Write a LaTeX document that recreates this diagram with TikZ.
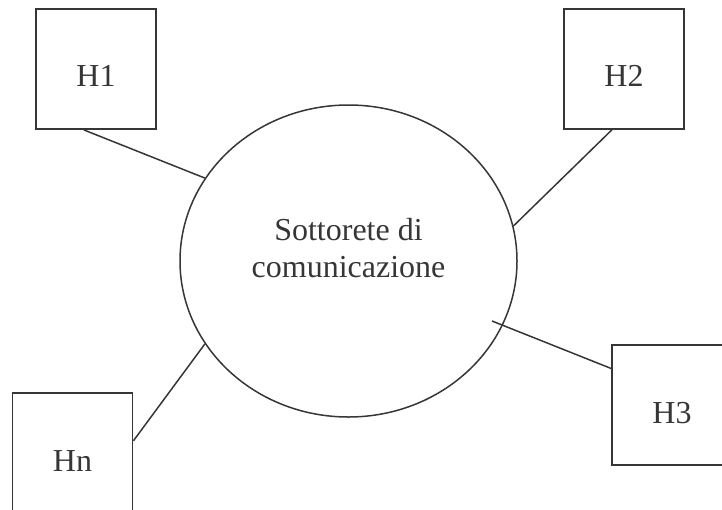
\documentclass[tikz,border=0pt]{standalone}
\usepackage{fontspec}
\setmainfont{Liberation Serif}
\usetikzlibrary{shapes.geometric,calc}
\definecolor{ink}{HTML}{363636}
\tikzset{
  host/.style={draw=ink, line width=1.8pt, rectangle, minimum width=120pt, minimum height=120pt, inner sep=0pt},
  hostlabel/.style={text=ink, font=\fontsize{32}{37}\selectfont, inner sep=0pt},
  subnet/.style={draw=ink, line width=1.5pt, ellipse, minimum width=337pt, minimum height=312pt, inner sep=0pt},
  link/.style={draw=ink, line width=1.5pt}
}
\begin{document}
\begin{tikzpicture}[x=1pt, y=-1pt]
  \clip (0,0) rectangle (722,509);

  % communication subnet
  \node[subnet] (net) at (348.5,261) {};
  \node[hostlabel, align=center] (nettext) at (348.5,247.6) {Sottorete di\\comunicazione};

  % hosts
  \node[host] (h1) at (96,69) {};
  \node[host] (h2) at (624,69) {};
  \node[host] (h3) at (672,405) {};
  \node[host] (hn) at (72.5,453) {};

  \node[hostlabel] (h1t) at ([yshift=-7pt]h1.center) {H1};
  \node[hostlabel] (h2t) at ([yshift=-7pt]h2.center) {H2};
  \node[hostlabel] (h3t) at ([yshift=-8pt]h3.center) {H3};
  \node[hostlabel] (hnt) at ([yshift=-8pt]hn.center) {Hn};

  % access links
  \coordinate (h3end) at (492,321);
  \draw[link] ($(h1.south west)!0.4!(h1.south east)$) -- (net.150);
  \draw[link] ($(h2.south west)!0.4!(h2.south east)$) -- (net.12);
  \draw[link] (h3end) -- ($(h3.north west)!0.2!(h3.south west)$);
  \draw[link] ($(hn.north east)!0.4!(hn.south east)$) -- (net.210);
\end{tikzpicture}
\end{document}
